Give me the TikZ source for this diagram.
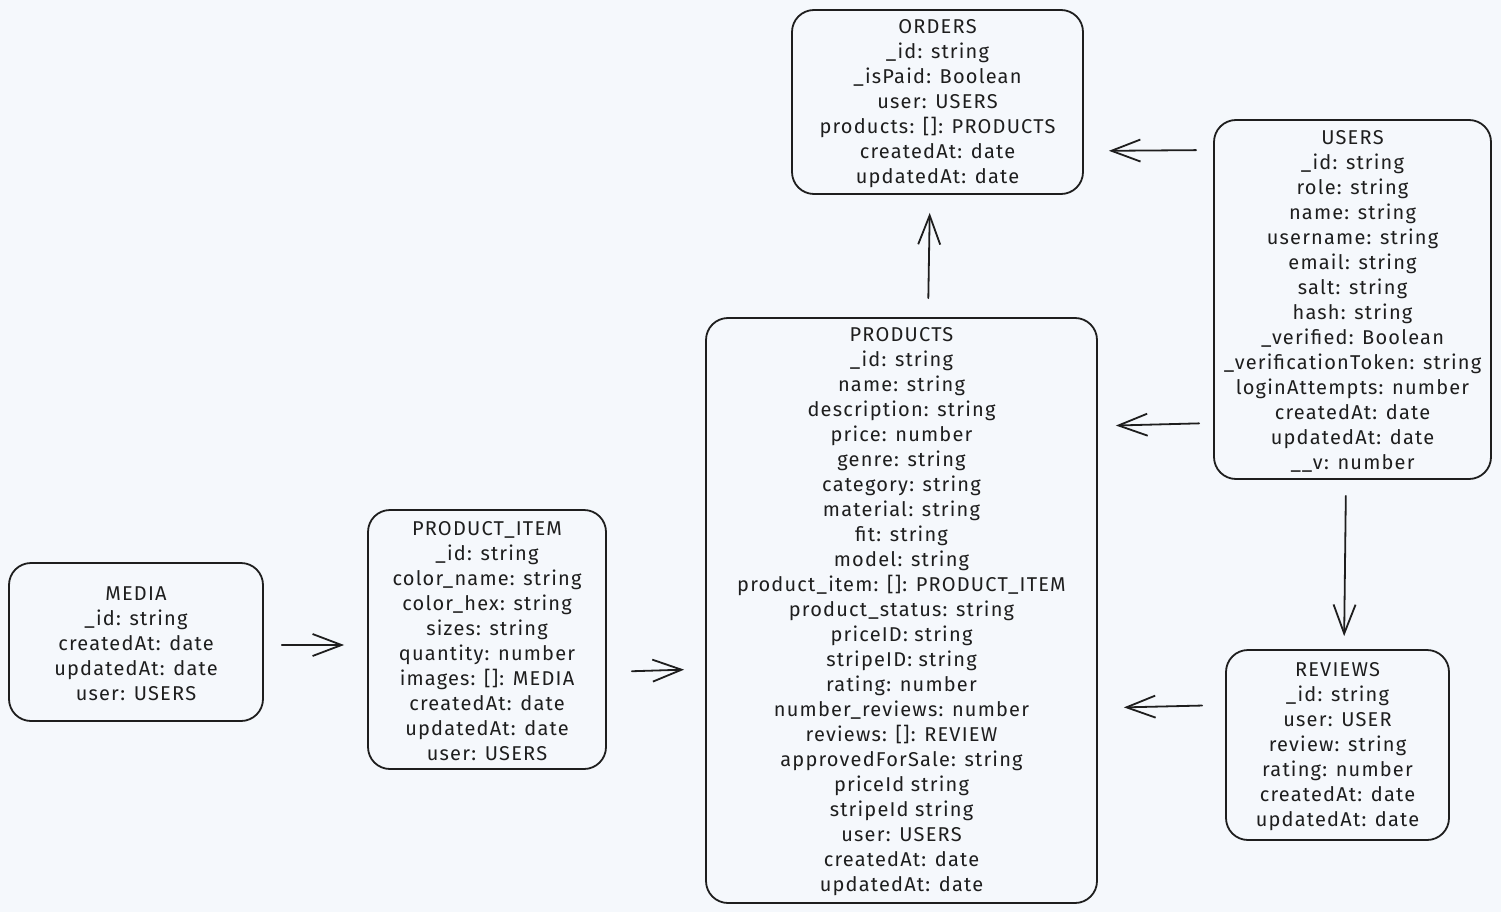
\documentclass[tikz,border=0pt]{standalone}
\usepackage{fontspec}
\setmainfont[LetterSpace=6]{Fira Sans}
\usetikzlibrary{arrows.meta}
\definecolor{bg}{HTML}{F5F8FC}
\definecolor{ink}{HTML}{1E1E1E}
% title row of a collection box, with a little extra room above it
\newcommand\collname[1]{\rule{0pt}{17pt}#1}
\begin{document}
\begin{tikzpicture}[x=1pt,y=-1pt,
  table/.style={draw=ink, line width=1.8pt, rounded corners=22pt, fill=bg,
    align=center, inner sep=0pt, text=ink, font=\fontsize{20}{25}\selectfont},
  link/.style={draw=ink, line width=1.8pt, line cap=round,
    -{Straight Barb[length=29pt,width=22pt,line width=1.8pt]}}]
\fill[bg] (0,0) rectangle (1501,912);
\useasboundingbox (0,0) rectangle (1501,912);

% collections
\node[table, minimum width=291pt, minimum height=184pt] (orders) at (937.5,102)
  {\collname{ORDERS}\\\_id: string\\\_isPaid: Boolean\\user: USERS\\products: []: PRODUCTS\\createdAt: date\\updatedAt: date};

\node[table, minimum width=277pt, minimum height=359pt] (users) at (1352.5,299.5)
  {\collname{USERS}\\\_id: string\\role: string\\name: string\\username: string\\email: string\\salt: string\\hash: string\\\_verified: Boolean\\\_verificationToken: string\\loginAttempts: number\\createdAt: date\\updatedAt: date\\\_\_v: number};

\node[table, minimum width=391pt, minimum height=585pt] (products) at (901.5,610.5)
  {\collname{PRODUCTS}\\\_id: string\\name: string\\description: string\\price: number\\genre: string\\category: string\\material: string\\fit: string\\model: string\\product\_item: []: PRODUCT\_ITEM\\product\_status: string\\priceID: string\\stripeID: string\\rating: number\\number\_reviews: number\\reviews: []: REVIEW\\approvedForSale: string\\priceId string\\stripeId string\\user: USERS\\createdAt: date\\updatedAt: date};

\node[table, minimum width=238pt, minimum height=259pt] (item) at (487,639.5)
  {\collname{PRODUCT\_ITEM}\\\_id: string\\color\_name: string\\color\_hex: string\\sizes: string\\quantity: number\\images: []: MEDIA\\createdAt: date\\updatedAt: date\\user: USERS};

\node[table, minimum width=254pt, minimum height=158pt] (media) at (136,642)
  {\collname{MEDIA}\\\_id: string\\createdAt: date\\updatedAt: date\\user: USERS};

\node[table, minimum width=223pt, minimum height=190pt] (reviews) at (1337.5,745)
  {\collname{REVIEWS}\\\_id: string\\user: USER\\review: string\\rating: number\\createdAt: date\\updatedAt: date};

% references
\draw[link, shorten <=17pt, shorten >=25pt] (users.west |- 0,150) -- (orders.east |- 0,151);
\draw[link, shorten <=14pt, shorten >=18pt] (users.west |- 0,423) -- (products.east |- 0,426);
\draw[link, shorten <=16pt, shorten >=13pt] (users.south -| 1346,0) -- (reviews.north -| 1344,0);
\draw[link, shorten <=23pt, shorten >=26pt] (reviews.west |- 0,705) -- (products.east |- 0,708);
\draw[link, shorten <=19pt, shorten >=18pt] (products.north -| 928,0) -- (orders.south -| 930,0);
\draw[link, shorten <=25pt, shorten >=21pt] (item.east |- 0,672) -- (products.west |- 0,669);
\draw[link, shorten <=18pt, shorten >=23pt] (media.east |- 0,645) -- (item.west |- 0,645);
\end{tikzpicture}
\end{document}
